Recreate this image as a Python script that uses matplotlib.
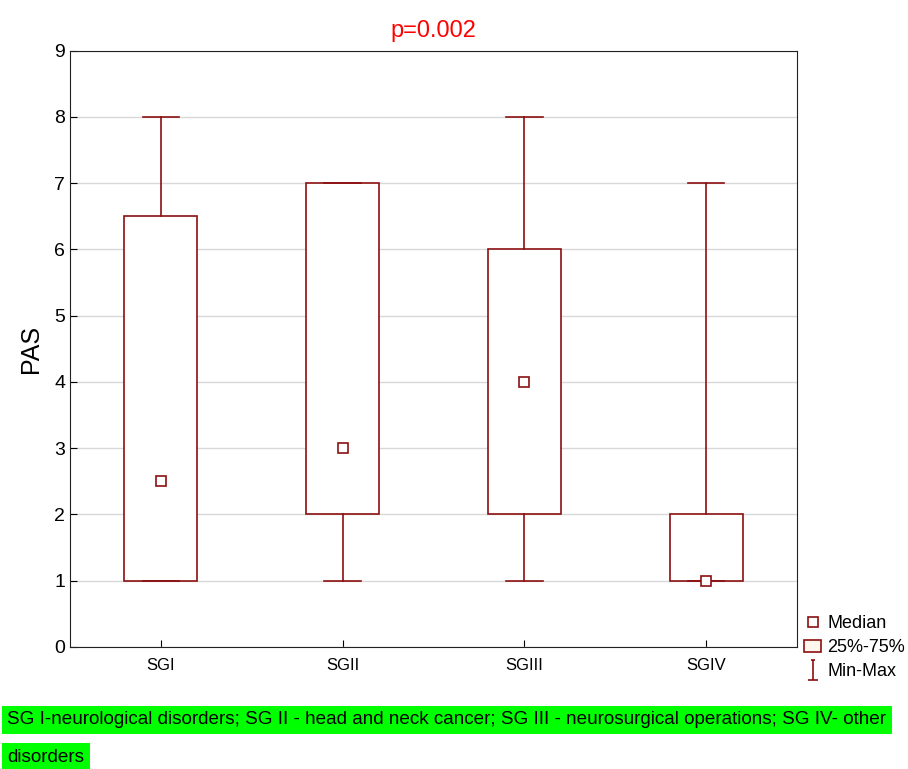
import matplotlib.pyplot as plt
from matplotlib.lines import Line2D
from matplotlib.patches import Patch
from matplotlib.path import Path

plt.rcParams["font.family"] = ["Liberation Sans", "DejaVu Sans"]

# data
groups = ["SGI", "SGII", "SGIII", "SGIV"]
mins = [1, 1, 1, 1]
q1s = [1, 2, 2, 1]
medians = [2.5, 3, 4, 1]
q3s = [6.5, 7, 6, 2]
maxs = [8, 7, 8, 7]
y_ticks = list(range(0, 10))

title = "p=0.002"
caption_1 = "SG I-neurological disorders; SG II - head and neck cancer; SG III - neurosurgical operations; SG IV- other"
caption_2 = "disorders"

red = "#8b1010"

fig = plt.figure(figsize=(9.08, 7.69), dpi=100)
ax = fig.add_axes([0.077, 0.159, 0.801, 0.775])

stats = []
for g, lo, a, m, b, hi in zip(groups, mins, q1s, medians, q3s, maxs):
    stats.append({"label": g, "whislo": lo, "q1": a, "med": m, "q3": b, "whishi": hi, "fliers": []})

pos = list(range(len(groups)))
ax.bxp(stats, positions=pos, widths=0.4, showfliers=False, patch_artist=True,
       boxprops=dict(facecolor="white", edgecolor=red, linewidth=1.2),
       whiskerprops=dict(color=red, linewidth=1.2),
       capprops=dict(color=red, linewidth=1.2),
       medianprops=dict(linewidth=0),
       capwidths=0.2, zorder=3)
ax.plot(pos, medians, ls="none", marker="s", markersize=7, markerfacecolor="white",
        markeredgecolor=red, markeredgewidth=1.2, zorder=4)

ax.set_xlim(-0.5, 3.5)
ax.set_ylim(0, 9)
ax.set_yticks(y_ticks)
ax.set_xticks(pos)
ax.set_xticklabels(groups, fontsize=12)
ax.tick_params(axis="y", labelsize=14, direction="in", length=5)
ax.tick_params(axis="x", direction="in", length=5, pad=8)
ax.yaxis.grid(True, color="#d8d8d8", linewidth=1)
ax.set_axisbelow(True)
for s in ax.spines.values():
    s.set_color("#222222")
ax.set_ylabel("PAS", fontsize=18, labelpad=8)
ax.set_title(title, color="red", fontsize=17, pad=10)

# min-max legend glyph
verts = [(-0.5, -1), (0.5, -1), (0, -1), (0, 1), (-0.25, 1), (0.25, 1)]
codes = [Path.MOVETO, Path.LINETO, Path.MOVETO, Path.LINETO, Path.MOVETO, Path.LINETO]
minmax = Path(verts, codes)

handles = [
    Line2D([], [], ls="none", marker="s", markersize=7, markerfacecolor="white",
           markeredgecolor=red, markeredgewidth=1.2),
    Patch(facecolor="#fff6ee", edgecolor=red, linewidth=1.2),
    Line2D([], [], ls="none", marker=minmax, markersize=14, markerfacecolor="none",
           markeredgecolor=red, markeredgewidth=1.2),
]
fig.legend(handles, ["Median", "25%-75%", "Min-Max"], loc="upper left",
           bbox_to_anchor=(0.876, 0.212), frameon=False, fontsize=13,
           handlelength=0.9, handletextpad=0.35, labelspacing=0.4, borderpad=0)

cap_kw = dict(fontsize=13.6, va="center", ha="left",
              bbox=dict(facecolor="#00ff00", edgecolor="none", pad=4))
fig.text(0.008, 1 - 720 / 769, caption_1, **cap_kw)
fig.text(0.008, 1 - 757 / 769, caption_2, **cap_kw)

fig.savefig("out.png", dpi=100)
